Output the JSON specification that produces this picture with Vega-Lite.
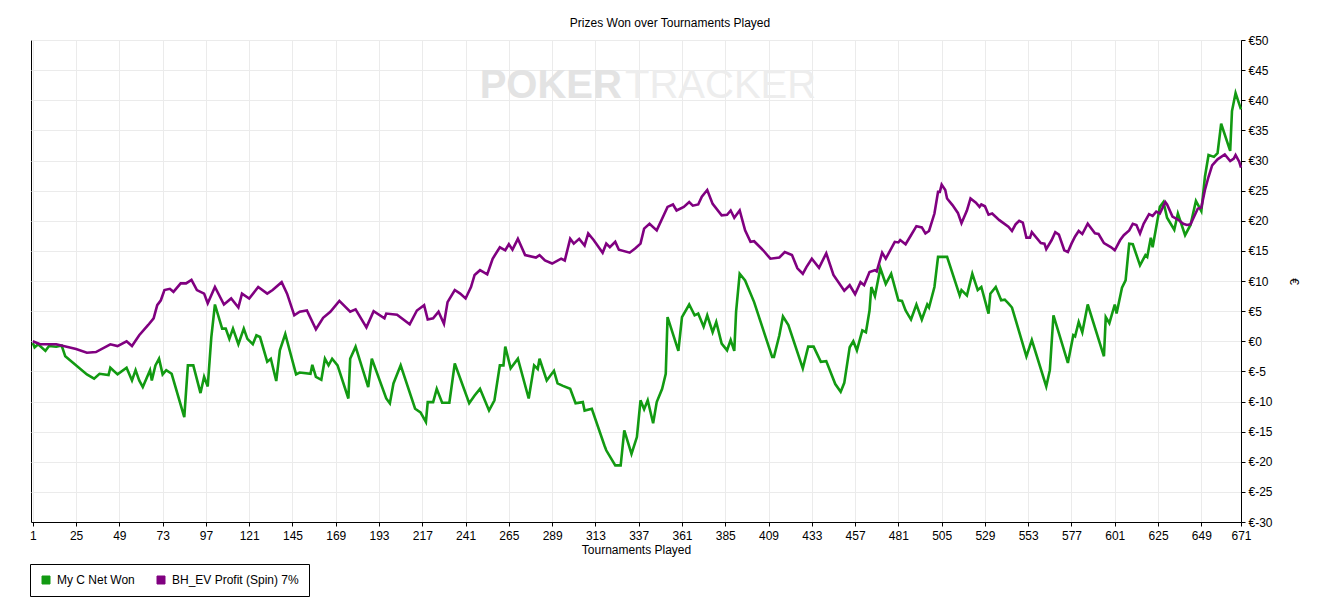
{
  "$schema": "https://vega.github.io/schema/vega-lite/v6.json",
  "autosize": {"type": "none"},
  "width": 1210,
  "height": 482,
  "padding": {"left": 31, "top": 40, "right": 84, "bottom": 92},
  "background": "white",
  "config": {
    "font": "Liberation Sans",
    "view": {"stroke": "black", "strokeWidth": 1},
    "axis": {
      "labelFont": "Liberation Sans", "labelFontSize": 12, "labelColor": "black",
      "titleFont": "Liberation Sans", "titleFontSize": 12, "titleFontWeight": "normal", "titleColor": "black",
      "domainColor": "black", "tickColor": "black", "tickSize": 4,
      "gridColor": "#ebebeb", "gridWidth": 1
    },
    "legend": {"labelFont": "Liberation Sans", "labelFontSize": 12, "labelColor": "black"}
  },
  "title": {
    "text": "Prizes Won over Tournaments Played",
    "fontSize": 12, "fontWeight": "normal", "font": "Liberation Sans", "color": "black",
    "anchor": "middle", "frame": "group", "dx": 34, "offset": 4
  },
  "datasets": {
    "wm": [
      {"t": 327.7, "v": 42.3, "txt": "POKER"},
      {"t": 329.4, "v": 42.3, "txt": "TRACKER"}
    ],
    "series": [
      {"s": "My C Net Won", "t": 1, "v": -0.3},
      {"s": "My C Net Won", "t": 2, "v": -1.0},
      {"s": "My C Net Won", "t": 4, "v": -0.5},
      {"s": "My C Net Won", "t": 8, "v": -1.6},
      {"s": "My C Net Won", "t": 10, "v": -0.8},
      {"s": "My C Net Won", "t": 14, "v": -0.9},
      {"s": "My C Net Won", "t": 17, "v": -0.7},
      {"s": "My C Net Won", "t": 19, "v": -2.5},
      {"s": "My C Net Won", "t": 31, "v": -5.5},
      {"s": "My C Net Won", "t": 35, "v": -6.2},
      {"s": "My C Net Won", "t": 38, "v": -5.4},
      {"s": "My C Net Won", "t": 43, "v": -5.6},
      {"s": "My C Net Won", "t": 44, "v": -4.4},
      {"s": "My C Net Won", "t": 48, "v": -5.5},
      {"s": "My C Net Won", "t": 53, "v": -4.4},
      {"s": "My C Net Won", "t": 56, "v": -6.5},
      {"s": "My C Net Won", "t": 58, "v": -4.8},
      {"s": "My C Net Won", "t": 60, "v": -6.5},
      {"s": "My C Net Won", "t": 62, "v": -7.6},
      {"s": "My C Net Won", "t": 66, "v": -4.8},
      {"s": "My C Net Won", "t": 67, "v": -6.5},
      {"s": "My C Net Won", "t": 69, "v": -4.0},
      {"s": "My C Net Won", "t": 71, "v": -2.9},
      {"s": "My C Net Won", "t": 73, "v": -5.5},
      {"s": "My C Net Won", "t": 75, "v": -4.8},
      {"s": "My C Net Won", "t": 78, "v": -5.4},
      {"s": "My C Net Won", "t": 85, "v": -12.6},
      {"s": "My C Net Won", "t": 87, "v": -4.0},
      {"s": "My C Net Won", "t": 90, "v": -4.0},
      {"s": "My C Net Won", "t": 94, "v": -8.6},
      {"s": "My C Net Won", "t": 96, "v": -5.9},
      {"s": "My C Net Won", "t": 98, "v": -7.5},
      {"s": "My C Net Won", "t": 100, "v": 0.7},
      {"s": "My C Net Won", "t": 102, "v": 6.1},
      {"s": "My C Net Won", "t": 106, "v": 2.1},
      {"s": "My C Net Won", "t": 108, "v": 2.1},
      {"s": "My C Net Won", "t": 110, "v": 0.4},
      {"s": "My C Net Won", "t": 112, "v": 2.1},
      {"s": "My C Net Won", "t": 115, "v": -0.5},
      {"s": "My C Net Won", "t": 118, "v": 2.1},
      {"s": "My C Net Won", "t": 120, "v": 0.4},
      {"s": "My C Net Won", "t": 123, "v": -0.5},
      {"s": "My C Net Won", "t": 125, "v": 1.0},
      {"s": "My C Net Won", "t": 127, "v": 0.7},
      {"s": "My C Net Won", "t": 131, "v": -3.4},
      {"s": "My C Net Won", "t": 133, "v": -2.9},
      {"s": "My C Net Won", "t": 136, "v": -6.6},
      {"s": "My C Net Won", "t": 138, "v": -1.5},
      {"s": "My C Net Won", "t": 141, "v": 1.2},
      {"s": "My C Net Won", "t": 147, "v": -5.5},
      {"s": "My C Net Won", "t": 149, "v": -5.2},
      {"s": "My C Net Won", "t": 155, "v": -5.4},
      {"s": "My C Net Won", "t": 156, "v": -3.9},
      {"s": "My C Net Won", "t": 158, "v": -5.9},
      {"s": "My C Net Won", "t": 161, "v": -6.4},
      {"s": "My C Net Won", "t": 163, "v": -2.9},
      {"s": "My C Net Won", "t": 165, "v": -4.0},
      {"s": "My C Net Won", "t": 167, "v": -2.9},
      {"s": "My C Net Won", "t": 170, "v": -4.0},
      {"s": "My C Net Won", "t": 176, "v": -9.5},
      {"s": "My C Net Won", "t": 177, "v": -2.9},
      {"s": "My C Net Won", "t": 180, "v": -0.9},
      {"s": "My C Net Won", "t": 187, "v": -7.6},
      {"s": "My C Net Won", "t": 189, "v": -2.9},
      {"s": "My C Net Won", "t": 197, "v": -9.5},
      {"s": "My C Net Won", "t": 199, "v": -10.3},
      {"s": "My C Net Won", "t": 201, "v": -7.0},
      {"s": "My C Net Won", "t": 205, "v": -4.0},
      {"s": "My C Net Won", "t": 213, "v": -11.2},
      {"s": "My C Net Won", "t": 216, "v": -11.8},
      {"s": "My C Net Won", "t": 219, "v": -13.4},
      {"s": "My C Net Won", "t": 220, "v": -10.1},
      {"s": "My C Net Won", "t": 223, "v": -10.1},
      {"s": "My C Net Won", "t": 225, "v": -7.9},
      {"s": "My C Net Won", "t": 228, "v": -10.2},
      {"s": "My C Net Won", "t": 232, "v": -10.2},
      {"s": "My C Net Won", "t": 235, "v": -3.7},
      {"s": "My C Net Won", "t": 243, "v": -10.3},
      {"s": "My C Net Won", "t": 246, "v": -9.0},
      {"s": "My C Net Won", "t": 249, "v": -7.9},
      {"s": "My C Net Won", "t": 254, "v": -11.5},
      {"s": "My C Net Won", "t": 257, "v": -9.8},
      {"s": "My C Net Won", "t": 260, "v": -4.0},
      {"s": "My C Net Won", "t": 262, "v": -4.0},
      {"s": "My C Net Won", "t": 263, "v": -0.9},
      {"s": "My C Net Won", "t": 266, "v": -4.5},
      {"s": "My C Net Won", "t": 270, "v": -2.9},
      {"s": "My C Net Won", "t": 276, "v": -9.5},
      {"s": "My C Net Won", "t": 279, "v": -4.0},
      {"s": "My C Net Won", "t": 281, "v": -4.6},
      {"s": "My C Net Won", "t": 282, "v": -2.9},
      {"s": "My C Net Won", "t": 286, "v": -6.5},
      {"s": "My C Net Won", "t": 290, "v": -4.9},
      {"s": "My C Net Won", "t": 292, "v": -7.0},
      {"s": "My C Net Won", "t": 295, "v": -7.4},
      {"s": "My C Net Won", "t": 299, "v": -7.9},
      {"s": "My C Net Won", "t": 302, "v": -10.3},
      {"s": "My C Net Won", "t": 306, "v": -10.1},
      {"s": "My C Net Won", "t": 307, "v": -11.5},
      {"s": "My C Net Won", "t": 311, "v": -11.2},
      {"s": "My C Net Won", "t": 318, "v": -17.3},
      {"s": "My C Net Won", "t": 319, "v": -18.1},
      {"s": "My C Net Won", "t": 324, "v": -20.6},
      {"s": "My C Net Won", "t": 327, "v": -20.6},
      {"s": "My C Net Won", "t": 329, "v": -14.8},
      {"s": "My C Net Won", "t": 333, "v": -18.7},
      {"s": "My C Net Won", "t": 336, "v": -15.9},
      {"s": "My C Net Won", "t": 338, "v": -9.8},
      {"s": "My C Net Won", "t": 340, "v": -11.3},
      {"s": "My C Net Won", "t": 342, "v": -9.8},
      {"s": "My C Net Won", "t": 345, "v": -13.6},
      {"s": "My C Net Won", "t": 347, "v": -10.1},
      {"s": "My C Net Won", "t": 350, "v": -7.9},
      {"s": "My C Net Won", "t": 352, "v": -5.4},
      {"s": "My C Net Won", "t": 353, "v": 4.0},
      {"s": "My C Net Won", "t": 359, "v": -1.6},
      {"s": "My C Net Won", "t": 361, "v": 4.0},
      {"s": "My C Net Won", "t": 365, "v": 6.1},
      {"s": "My C Net Won", "t": 368, "v": 4.3},
      {"s": "My C Net Won", "t": 370, "v": 4.6},
      {"s": "My C Net Won", "t": 373, "v": 2.4},
      {"s": "My C Net Won", "t": 375, "v": 4.3},
      {"s": "My C Net Won", "t": 378, "v": 1.5},
      {"s": "My C Net Won", "t": 380, "v": 3.2},
      {"s": "My C Net Won", "t": 383, "v": -0.4},
      {"s": "My C Net Won", "t": 386, "v": -1.5},
      {"s": "My C Net Won", "t": 388, "v": 0.2},
      {"s": "My C Net Won", "t": 390, "v": -1.6},
      {"s": "My C Net Won", "t": 391, "v": 4.9},
      {"s": "My C Net Won", "t": 393, "v": 11.2},
      {"s": "My C Net Won", "t": 396, "v": 10.1},
      {"s": "My C Net Won", "t": 401, "v": 6.5},
      {"s": "My C Net Won", "t": 411, "v": -2.6},
      {"s": "My C Net Won", "t": 412, "v": -2.6},
      {"s": "My C Net Won", "t": 415, "v": 1.0},
      {"s": "My C Net Won", "t": 417, "v": 4.1},
      {"s": "My C Net Won", "t": 420, "v": 2.7},
      {"s": "My C Net Won", "t": 428, "v": -4.5},
      {"s": "My C Net Won", "t": 431, "v": -0.9},
      {"s": "My C Net Won", "t": 434, "v": -0.9},
      {"s": "My C Net Won", "t": 438, "v": -3.4},
      {"s": "My C Net Won", "t": 441, "v": -3.3},
      {"s": "My C Net Won", "t": 446, "v": -7.1},
      {"s": "My C Net Won", "t": 449, "v": -8.4},
      {"s": "My C Net Won", "t": 451, "v": -6.9},
      {"s": "My C Net Won", "t": 454, "v": -1.0},
      {"s": "My C Net Won", "t": 456, "v": 0.0},
      {"s": "My C Net Won", "t": 458, "v": -1.5},
      {"s": "My C Net Won", "t": 461, "v": 1.8},
      {"s": "My C Net Won", "t": 463, "v": 1.5},
      {"s": "My C Net Won", "t": 465, "v": 5.1},
      {"s": "My C Net Won", "t": 466, "v": 9.0},
      {"s": "My C Net Won", "t": 468, "v": 7.5},
      {"s": "My C Net Won", "t": 471, "v": 12.1},
      {"s": "My C Net Won", "t": 474, "v": 9.5},
      {"s": "My C Net Won", "t": 477, "v": 11.2},
      {"s": "My C Net Won", "t": 481, "v": 6.8},
      {"s": "My C Net Won", "t": 483, "v": 6.7},
      {"s": "My C Net Won", "t": 485, "v": 5.1},
      {"s": "My C Net Won", "t": 488, "v": 3.6},
      {"s": "My C Net Won", "t": 491, "v": 6.1},
      {"s": "My C Net Won", "t": 494, "v": 3.6},
      {"s": "My C Net Won", "t": 497, "v": 6.1},
      {"s": "My C Net Won", "t": 498, "v": 5.6},
      {"s": "My C Net Won", "t": 501, "v": 9.0},
      {"s": "My C Net Won", "t": 503, "v": 14.0},
      {"s": "My C Net Won", "t": 508, "v": 14.0},
      {"s": "My C Net Won", "t": 515, "v": 7.6},
      {"s": "My C Net Won", "t": 516, "v": 8.5},
      {"s": "My C Net Won", "t": 519, "v": 7.6},
      {"s": "My C Net Won", "t": 522, "v": 11.2},
      {"s": "My C Net Won", "t": 525, "v": 8.5},
      {"s": "My C Net Won", "t": 527, "v": 9.0},
      {"s": "My C Net Won", "t": 531, "v": 4.6},
      {"s": "My C Net Won", "t": 532, "v": 7.9},
      {"s": "My C Net Won", "t": 535, "v": 9.0},
      {"s": "My C Net Won", "t": 538, "v": 6.8},
      {"s": "My C Net Won", "t": 540, "v": 6.9},
      {"s": "My C Net Won", "t": 542, "v": 6.3},
      {"s": "My C Net Won", "t": 544, "v": 5.6},
      {"s": "My C Net Won", "t": 552, "v": -2.5},
      {"s": "My C Net Won", "t": 555, "v": 0.2},
      {"s": "My C Net Won", "t": 563, "v": -7.5},
      {"s": "My C Net Won", "t": 565, "v": -4.8},
      {"s": "My C Net Won", "t": 567, "v": 4.3},
      {"s": "My C Net Won", "t": 575, "v": -3.6},
      {"s": "My C Net Won", "t": 578, "v": 1.0},
      {"s": "My C Net Won", "t": 579, "v": 0.8},
      {"s": "My C Net Won", "t": 581, "v": 3.2},
      {"s": "My C Net Won", "t": 583, "v": 1.5},
      {"s": "My C Net Won", "t": 586, "v": 6.1},
      {"s": "My C Net Won", "t": 595, "v": -2.5},
      {"s": "My C Net Won", "t": 596, "v": 4.0},
      {"s": "My C Net Won", "t": 598, "v": 3.0},
      {"s": "My C Net Won", "t": 601, "v": 6.1},
      {"s": "My C Net Won", "t": 602, "v": 4.6},
      {"s": "My C Net Won", "t": 605, "v": 8.9},
      {"s": "My C Net Won", "t": 607, "v": 10.1},
      {"s": "My C Net Won", "t": 609, "v": 16.2},
      {"s": "My C Net Won", "t": 611, "v": 16.1},
      {"s": "My C Net Won", "t": 615, "v": 12.6},
      {"s": "My C Net Won", "t": 618, "v": 14.3},
      {"s": "My C Net Won", "t": 619, "v": 14.0},
      {"s": "My C Net Won", "t": 621, "v": 17.2},
      {"s": "My C Net Won", "t": 622, "v": 15.6},
      {"s": "My C Net Won", "t": 626, "v": 22.3},
      {"s": "My C Net Won", "t": 628, "v": 23.1},
      {"s": "My C Net Won", "t": 630, "v": 20.5},
      {"s": "My C Net Won", "t": 634, "v": 18.5},
      {"s": "My C Net Won", "t": 636, "v": 21.2},
      {"s": "My C Net Won", "t": 640, "v": 17.6},
      {"s": "My C Net Won", "t": 643, "v": 19.3},
      {"s": "My C Net Won", "t": 646, "v": 23.3},
      {"s": "My C Net Won", "t": 649, "v": 21.6},
      {"s": "My C Net Won", "t": 651, "v": 27.3},
      {"s": "My C Net Won", "t": 653, "v": 30.9},
      {"s": "My C Net Won", "t": 656, "v": 30.6},
      {"s": "My C Net Won", "t": 658, "v": 31.2},
      {"s": "My C Net Won", "t": 660, "v": 36.1},
      {"s": "My C Net Won", "t": 665, "v": 31.6},
      {"s": "My C Net Won", "t": 666, "v": 38.2},
      {"s": "My C Net Won", "t": 668, "v": 41.2},
      {"s": "My C Net Won", "t": 671, "v": 38.5},
      {"s": "BH_EV Profit (Spin) 7%", "t": 1, "v": 0.0},
      {"s": "BH_EV Profit (Spin) 7%", "t": 5, "v": -0.5},
      {"s": "BH_EV Profit (Spin) 7%", "t": 14, "v": -0.5},
      {"s": "BH_EV Profit (Spin) 7%", "t": 25, "v": -1.3},
      {"s": "BH_EV Profit (Spin) 7%", "t": 31, "v": -1.9},
      {"s": "BH_EV Profit (Spin) 7%", "t": 36, "v": -1.8},
      {"s": "BH_EV Profit (Spin) 7%", "t": 44, "v": -0.5},
      {"s": "BH_EV Profit (Spin) 7%", "t": 48, "v": -0.8},
      {"s": "BH_EV Profit (Spin) 7%", "t": 53, "v": 0.0},
      {"s": "BH_EV Profit (Spin) 7%", "t": 56, "v": -0.8},
      {"s": "BH_EV Profit (Spin) 7%", "t": 60, "v": 1.0},
      {"s": "BH_EV Profit (Spin) 7%", "t": 65, "v": 2.7},
      {"s": "BH_EV Profit (Spin) 7%", "t": 68, "v": 3.8},
      {"s": "BH_EV Profit (Spin) 7%", "t": 70, "v": 6.0},
      {"s": "BH_EV Profit (Spin) 7%", "t": 72, "v": 6.8},
      {"s": "BH_EV Profit (Spin) 7%", "t": 74, "v": 8.5},
      {"s": "BH_EV Profit (Spin) 7%", "t": 77, "v": 8.7},
      {"s": "BH_EV Profit (Spin) 7%", "t": 79, "v": 8.2},
      {"s": "BH_EV Profit (Spin) 7%", "t": 83, "v": 9.6},
      {"s": "BH_EV Profit (Spin) 7%", "t": 86, "v": 9.6},
      {"s": "BH_EV Profit (Spin) 7%", "t": 89, "v": 10.2},
      {"s": "BH_EV Profit (Spin) 7%", "t": 92, "v": 8.5},
      {"s": "BH_EV Profit (Spin) 7%", "t": 96, "v": 7.9},
      {"s": "BH_EV Profit (Spin) 7%", "t": 98, "v": 6.3},
      {"s": "BH_EV Profit (Spin) 7%", "t": 102, "v": 9.0},
      {"s": "BH_EV Profit (Spin) 7%", "t": 107, "v": 6.1},
      {"s": "BH_EV Profit (Spin) 7%", "t": 111, "v": 7.1},
      {"s": "BH_EV Profit (Spin) 7%", "t": 115, "v": 5.6},
      {"s": "BH_EV Profit (Spin) 7%", "t": 117, "v": 7.9},
      {"s": "BH_EV Profit (Spin) 7%", "t": 121, "v": 7.1},
      {"s": "BH_EV Profit (Spin) 7%", "t": 126, "v": 9.0},
      {"s": "BH_EV Profit (Spin) 7%", "t": 131, "v": 7.9},
      {"s": "BH_EV Profit (Spin) 7%", "t": 134, "v": 8.5},
      {"s": "BH_EV Profit (Spin) 7%", "t": 139, "v": 9.8},
      {"s": "BH_EV Profit (Spin) 7%", "t": 142, "v": 7.9},
      {"s": "BH_EV Profit (Spin) 7%", "t": 146, "v": 4.3},
      {"s": "BH_EV Profit (Spin) 7%", "t": 149, "v": 4.9},
      {"s": "BH_EV Profit (Spin) 7%", "t": 153, "v": 5.1},
      {"s": "BH_EV Profit (Spin) 7%", "t": 158, "v": 2.0},
      {"s": "BH_EV Profit (Spin) 7%", "t": 162, "v": 3.9},
      {"s": "BH_EV Profit (Spin) 7%", "t": 166, "v": 4.9},
      {"s": "BH_EV Profit (Spin) 7%", "t": 171, "v": 6.7},
      {"s": "BH_EV Profit (Spin) 7%", "t": 177, "v": 4.9},
      {"s": "BH_EV Profit (Spin) 7%", "t": 180, "v": 5.3},
      {"s": "BH_EV Profit (Spin) 7%", "t": 186, "v": 2.3},
      {"s": "BH_EV Profit (Spin) 7%", "t": 190, "v": 5.0},
      {"s": "BH_EV Profit (Spin) 7%", "t": 196, "v": 3.8},
      {"s": "BH_EV Profit (Spin) 7%", "t": 197, "v": 4.6},
      {"s": "BH_EV Profit (Spin) 7%", "t": 203, "v": 4.4},
      {"s": "BH_EV Profit (Spin) 7%", "t": 210, "v": 2.8},
      {"s": "BH_EV Profit (Spin) 7%", "t": 214, "v": 5.1},
      {"s": "BH_EV Profit (Spin) 7%", "t": 218, "v": 6.0},
      {"s": "BH_EV Profit (Spin) 7%", "t": 220, "v": 3.6},
      {"s": "BH_EV Profit (Spin) 7%", "t": 223, "v": 3.8},
      {"s": "BH_EV Profit (Spin) 7%", "t": 226, "v": 4.9},
      {"s": "BH_EV Profit (Spin) 7%", "t": 229, "v": 2.9},
      {"s": "BH_EV Profit (Spin) 7%", "t": 231, "v": 6.5},
      {"s": "BH_EV Profit (Spin) 7%", "t": 235, "v": 8.5},
      {"s": "BH_EV Profit (Spin) 7%", "t": 238, "v": 7.9},
      {"s": "BH_EV Profit (Spin) 7%", "t": 241, "v": 7.1},
      {"s": "BH_EV Profit (Spin) 7%", "t": 244, "v": 9.0},
      {"s": "BH_EV Profit (Spin) 7%", "t": 246, "v": 11.0},
      {"s": "BH_EV Profit (Spin) 7%", "t": 249, "v": 11.8},
      {"s": "BH_EV Profit (Spin) 7%", "t": 253, "v": 11.1},
      {"s": "BH_EV Profit (Spin) 7%", "t": 256, "v": 13.7},
      {"s": "BH_EV Profit (Spin) 7%", "t": 260, "v": 15.6},
      {"s": "BH_EV Profit (Spin) 7%", "t": 263, "v": 15.1},
      {"s": "BH_EV Profit (Spin) 7%", "t": 265, "v": 16.1},
      {"s": "BH_EV Profit (Spin) 7%", "t": 267, "v": 15.2},
      {"s": "BH_EV Profit (Spin) 7%", "t": 270, "v": 17.0},
      {"s": "BH_EV Profit (Spin) 7%", "t": 274, "v": 14.3},
      {"s": "BH_EV Profit (Spin) 7%", "t": 280, "v": 13.9},
      {"s": "BH_EV Profit (Spin) 7%", "t": 282, "v": 14.3},
      {"s": "BH_EV Profit (Spin) 7%", "t": 285, "v": 13.4},
      {"s": "BH_EV Profit (Spin) 7%", "t": 289, "v": 12.9},
      {"s": "BH_EV Profit (Spin) 7%", "t": 294, "v": 13.7},
      {"s": "BH_EV Profit (Spin) 7%", "t": 296, "v": 13.4},
      {"s": "BH_EV Profit (Spin) 7%", "t": 299, "v": 17.0},
      {"s": "BH_EV Profit (Spin) 7%", "t": 301, "v": 16.2},
      {"s": "BH_EV Profit (Spin) 7%", "t": 304, "v": 17.0},
      {"s": "BH_EV Profit (Spin) 7%", "t": 307, "v": 15.9},
      {"s": "BH_EV Profit (Spin) 7%", "t": 309, "v": 17.9},
      {"s": "BH_EV Profit (Spin) 7%", "t": 312, "v": 16.8},
      {"s": "BH_EV Profit (Spin) 7%", "t": 317, "v": 14.7},
      {"s": "BH_EV Profit (Spin) 7%", "t": 319, "v": 16.2},
      {"s": "BH_EV Profit (Spin) 7%", "t": 321, "v": 15.6},
      {"s": "BH_EV Profit (Spin) 7%", "t": 324, "v": 16.5},
      {"s": "BH_EV Profit (Spin) 7%", "t": 326, "v": 15.2},
      {"s": "BH_EV Profit (Spin) 7%", "t": 332, "v": 14.7},
      {"s": "BH_EV Profit (Spin) 7%", "t": 335, "v": 15.4},
      {"s": "BH_EV Profit (Spin) 7%", "t": 338, "v": 16.2},
      {"s": "BH_EV Profit (Spin) 7%", "t": 340, "v": 18.7},
      {"s": "BH_EV Profit (Spin) 7%", "t": 343, "v": 19.5},
      {"s": "BH_EV Profit (Spin) 7%", "t": 347, "v": 18.4},
      {"s": "BH_EV Profit (Spin) 7%", "t": 353, "v": 22.3},
      {"s": "BH_EV Profit (Spin) 7%", "t": 356, "v": 22.7},
      {"s": "BH_EV Profit (Spin) 7%", "t": 358, "v": 21.7},
      {"s": "BH_EV Profit (Spin) 7%", "t": 362, "v": 22.3},
      {"s": "BH_EV Profit (Spin) 7%", "t": 365, "v": 23.1},
      {"s": "BH_EV Profit (Spin) 7%", "t": 367, "v": 22.5},
      {"s": "BH_EV Profit (Spin) 7%", "t": 370, "v": 22.7},
      {"s": "BH_EV Profit (Spin) 7%", "t": 372, "v": 24.0},
      {"s": "BH_EV Profit (Spin) 7%", "t": 375, "v": 25.1},
      {"s": "BH_EV Profit (Spin) 7%", "t": 378, "v": 22.8},
      {"s": "BH_EV Profit (Spin) 7%", "t": 383, "v": 20.9},
      {"s": "BH_EV Profit (Spin) 7%", "t": 386, "v": 21.0},
      {"s": "BH_EV Profit (Spin) 7%", "t": 388, "v": 21.7},
      {"s": "BH_EV Profit (Spin) 7%", "t": 390, "v": 20.5},
      {"s": "BH_EV Profit (Spin) 7%", "t": 393, "v": 21.7},
      {"s": "BH_EV Profit (Spin) 7%", "t": 396, "v": 18.4},
      {"s": "BH_EV Profit (Spin) 7%", "t": 399, "v": 16.5},
      {"s": "BH_EV Profit (Spin) 7%", "t": 401, "v": 16.6},
      {"s": "BH_EV Profit (Spin) 7%", "t": 406, "v": 15.1},
      {"s": "BH_EV Profit (Spin) 7%", "t": 410, "v": 13.7},
      {"s": "BH_EV Profit (Spin) 7%", "t": 415, "v": 13.9},
      {"s": "BH_EV Profit (Spin) 7%", "t": 418, "v": 14.8},
      {"s": "BH_EV Profit (Spin) 7%", "t": 422, "v": 14.3},
      {"s": "BH_EV Profit (Spin) 7%", "t": 425, "v": 12.1},
      {"s": "BH_EV Profit (Spin) 7%", "t": 428, "v": 11.2},
      {"s": "BH_EV Profit (Spin) 7%", "t": 430, "v": 12.3},
      {"s": "BH_EV Profit (Spin) 7%", "t": 433, "v": 13.7},
      {"s": "BH_EV Profit (Spin) 7%", "t": 437, "v": 12.2},
      {"s": "BH_EV Profit (Spin) 7%", "t": 441, "v": 14.6},
      {"s": "BH_EV Profit (Spin) 7%", "t": 445, "v": 11.0},
      {"s": "BH_EV Profit (Spin) 7%", "t": 451, "v": 8.4},
      {"s": "BH_EV Profit (Spin) 7%", "t": 454, "v": 9.3},
      {"s": "BH_EV Profit (Spin) 7%", "t": 457, "v": 7.8},
      {"s": "BH_EV Profit (Spin) 7%", "t": 460, "v": 9.8},
      {"s": "BH_EV Profit (Spin) 7%", "t": 462, "v": 9.3},
      {"s": "BH_EV Profit (Spin) 7%", "t": 465, "v": 11.5},
      {"s": "BH_EV Profit (Spin) 7%", "t": 468, "v": 11.8},
      {"s": "BH_EV Profit (Spin) 7%", "t": 469, "v": 11.6},
      {"s": "BH_EV Profit (Spin) 7%", "t": 472, "v": 14.7},
      {"s": "BH_EV Profit (Spin) 7%", "t": 474, "v": 13.7},
      {"s": "BH_EV Profit (Spin) 7%", "t": 479, "v": 16.5},
      {"s": "BH_EV Profit (Spin) 7%", "t": 481, "v": 16.4},
      {"s": "BH_EV Profit (Spin) 7%", "t": 482, "v": 16.8},
      {"s": "BH_EV Profit (Spin) 7%", "t": 485, "v": 16.1},
      {"s": "BH_EV Profit (Spin) 7%", "t": 488, "v": 17.6},
      {"s": "BH_EV Profit (Spin) 7%", "t": 491, "v": 19.1},
      {"s": "BH_EV Profit (Spin) 7%", "t": 494, "v": 18.9},
      {"s": "BH_EV Profit (Spin) 7%", "t": 496, "v": 17.9},
      {"s": "BH_EV Profit (Spin) 7%", "t": 498, "v": 18.3},
      {"s": "BH_EV Profit (Spin) 7%", "t": 501, "v": 21.2},
      {"s": "BH_EV Profit (Spin) 7%", "t": 503, "v": 24.8},
      {"s": "BH_EV Profit (Spin) 7%", "t": 504, "v": 24.8},
      {"s": "BH_EV Profit (Spin) 7%", "t": 505, "v": 26.0},
      {"s": "BH_EV Profit (Spin) 7%", "t": 507, "v": 25.1},
      {"s": "BH_EV Profit (Spin) 7%", "t": 508, "v": 23.7},
      {"s": "BH_EV Profit (Spin) 7%", "t": 511, "v": 22.6},
      {"s": "BH_EV Profit (Spin) 7%", "t": 514, "v": 21.3},
      {"s": "BH_EV Profit (Spin) 7%", "t": 516, "v": 19.6},
      {"s": "BH_EV Profit (Spin) 7%", "t": 519, "v": 21.7},
      {"s": "BH_EV Profit (Spin) 7%", "t": 521, "v": 23.7},
      {"s": "BH_EV Profit (Spin) 7%", "t": 524, "v": 23.0},
      {"s": "BH_EV Profit (Spin) 7%", "t": 526, "v": 22.3},
      {"s": "BH_EV Profit (Spin) 7%", "t": 527, "v": 22.7},
      {"s": "BH_EV Profit (Spin) 7%", "t": 529, "v": 22.4},
      {"s": "BH_EV Profit (Spin) 7%", "t": 531, "v": 21.0},
      {"s": "BH_EV Profit (Spin) 7%", "t": 533, "v": 21.2},
      {"s": "BH_EV Profit (Spin) 7%", "t": 537, "v": 20.1},
      {"s": "BH_EV Profit (Spin) 7%", "t": 542, "v": 19.0},
      {"s": "BH_EV Profit (Spin) 7%", "t": 544, "v": 18.3},
      {"s": "BH_EV Profit (Spin) 7%", "t": 546, "v": 19.4},
      {"s": "BH_EV Profit (Spin) 7%", "t": 548, "v": 20.0},
      {"s": "BH_EV Profit (Spin) 7%", "t": 550, "v": 19.7},
      {"s": "BH_EV Profit (Spin) 7%", "t": 552, "v": 17.2},
      {"s": "BH_EV Profit (Spin) 7%", "t": 554, "v": 17.2},
      {"s": "BH_EV Profit (Spin) 7%", "t": 555, "v": 18.1},
      {"s": "BH_EV Profit (Spin) 7%", "t": 560, "v": 16.3},
      {"s": "BH_EV Profit (Spin) 7%", "t": 562, "v": 16.2},
      {"s": "BH_EV Profit (Spin) 7%", "t": 563, "v": 15.3},
      {"s": "BH_EV Profit (Spin) 7%", "t": 566, "v": 16.8},
      {"s": "BH_EV Profit (Spin) 7%", "t": 568, "v": 18.1},
      {"s": "BH_EV Profit (Spin) 7%", "t": 570, "v": 17.7},
      {"s": "BH_EV Profit (Spin) 7%", "t": 573, "v": 15.1},
      {"s": "BH_EV Profit (Spin) 7%", "t": 575, "v": 14.8},
      {"s": "BH_EV Profit (Spin) 7%", "t": 577, "v": 16.2},
      {"s": "BH_EV Profit (Spin) 7%", "t": 579, "v": 17.4},
      {"s": "BH_EV Profit (Spin) 7%", "t": 581, "v": 18.3},
      {"s": "BH_EV Profit (Spin) 7%", "t": 583, "v": 17.8},
      {"s": "BH_EV Profit (Spin) 7%", "t": 586, "v": 19.5},
      {"s": "BH_EV Profit (Spin) 7%", "t": 590, "v": 17.9},
      {"s": "BH_EV Profit (Spin) 7%", "t": 592, "v": 17.8},
      {"s": "BH_EV Profit (Spin) 7%", "t": 595, "v": 16.3},
      {"s": "BH_EV Profit (Spin) 7%", "t": 599, "v": 15.6},
      {"s": "BH_EV Profit (Spin) 7%", "t": 601, "v": 15.1},
      {"s": "BH_EV Profit (Spin) 7%", "t": 604, "v": 16.8},
      {"s": "BH_EV Profit (Spin) 7%", "t": 606, "v": 17.6},
      {"s": "BH_EV Profit (Spin) 7%", "t": 609, "v": 18.4},
      {"s": "BH_EV Profit (Spin) 7%", "t": 611, "v": 19.5},
      {"s": "BH_EV Profit (Spin) 7%", "t": 613, "v": 19.3},
      {"s": "BH_EV Profit (Spin) 7%", "t": 615, "v": 17.9},
      {"s": "BH_EV Profit (Spin) 7%", "t": 617, "v": 19.5},
      {"s": "BH_EV Profit (Spin) 7%", "t": 620, "v": 21.1},
      {"s": "BH_EV Profit (Spin) 7%", "t": 622, "v": 20.8},
      {"s": "BH_EV Profit (Spin) 7%", "t": 624, "v": 21.5},
      {"s": "BH_EV Profit (Spin) 7%", "t": 626, "v": 21.2},
      {"s": "BH_EV Profit (Spin) 7%", "t": 629, "v": 23.1},
      {"s": "BH_EV Profit (Spin) 7%", "t": 630, "v": 22.7},
      {"s": "BH_EV Profit (Spin) 7%", "t": 633, "v": 20.7},
      {"s": "BH_EV Profit (Spin) 7%", "t": 636, "v": 20.2},
      {"s": "BH_EV Profit (Spin) 7%", "t": 639, "v": 19.5},
      {"s": "BH_EV Profit (Spin) 7%", "t": 641, "v": 19.3},
      {"s": "BH_EV Profit (Spin) 7%", "t": 643, "v": 19.4},
      {"s": "BH_EV Profit (Spin) 7%", "t": 647, "v": 22.0},
      {"s": "BH_EV Profit (Spin) 7%", "t": 649, "v": 22.2},
      {"s": "BH_EV Profit (Spin) 7%", "t": 651, "v": 25.1},
      {"s": "BH_EV Profit (Spin) 7%", "t": 653, "v": 27.3},
      {"s": "BH_EV Profit (Spin) 7%", "t": 655, "v": 29.2},
      {"s": "BH_EV Profit (Spin) 7%", "t": 658, "v": 30.2},
      {"s": "BH_EV Profit (Spin) 7%", "t": 662, "v": 31.0},
      {"s": "BH_EV Profit (Spin) 7%", "t": 665, "v": 29.9},
      {"s": "BH_EV Profit (Spin) 7%", "t": 667, "v": 30.3},
      {"s": "BH_EV Profit (Spin) 7%", "t": 668, "v": 30.9},
      {"s": "BH_EV Profit (Spin) 7%", "t": 670, "v": 29.8},
      {"s": "BH_EV Profit (Spin) 7%", "t": 671, "v": 28.8}
    ]
  },
  "encoding": {
    "x": {
      "type": "quantitative",
      "scale": {"domain": [0, 671], "nice": false, "zero": false},
      "axis": {
        "title": "Tournaments Played",
        "values": [1, 25, 49, 73, 97, 121, 145, 169, 193, 217, 241, 265, 289, 313, 337, 361, 385, 409, 433, 457, 481, 505, 529, 553, 577, 601, 625, 649, 671],
        "grid": true, "labelPadding": 4, "titlePadding": 3, "labelFlush": false
      }
    },
    "y": {
      "type": "quantitative",
      "scale": {"domain": [-30, 50], "nice": false, "zero": false},
      "axis": {
        "orient": "right", "title": "€", "titleAngle": 90, "titlePadding": 14,
        "values": [-30, -25, -20, -15, -10, -5, 0, 5, 10, 15, 20, 25, 30, 35, 40, 45, 50],
        "labelExpr": "'€' + datum.value", "grid": true, "labelPadding": 3, "labelFlush": false
      }
    }
  },
  "layer": [
    {
      "data": {"name": "wm"},
      "transform": [{"filter": "datum.txt == 'POKER'"}],
      "mark": {"type": "text", "font": "Liberation Sans", "fontSize": 40, "fontWeight": "bold", "baseline": "middle", "align": "right", "color": "#e3e3e3"},
      "encoding": {
        "x": {"field": "t"},
        "y": {"field": "v"},
        "text": {"field": "txt"}
      }
    },
    {
      "data": {"name": "wm"},
      "transform": [{"filter": "datum.txt == 'TRACKER'"}],
      "mark": {"type": "text", "font": "Liberation Sans", "fontSize": 40, "fontWeight": "normal", "baseline": "middle", "align": "left", "color": "#ededed"},
      "encoding": {
        "x": {"field": "t"},
        "y": {"field": "v"},
        "text": {"field": "txt"}
      }
    },
    {
      "mark": {"type": "rule", "color": "black", "strokeWidth": 1},
      "encoding": {"y": {"datum": 0}}
    },
    {
      "data": {"name": "series"},
      "mark": {"type": "line", "strokeWidth": 2.6},
      "encoding": {
        "x": {"field": "t"},
        "y": {"field": "v"},
        "color": {
          "field": "s", "type": "nominal",
          "scale": {"domain": ["My C Net Won", "BH_EV Profit (Spin) 7%"], "range": ["#129a12", "#800080"]},
          "legend": {
            "title": null, "orient": "none", "legendX": -1, "legendY": 524, "direction": "horizontal",
            "strokeColor": "black", "fillColor": "white", "padding": 10, "columnPadding": 20,
            "symbolType": "square", "symbolSize": 64, "labelOffset": 5,
            "encode": {
              "symbols": {
                "update": {
                  "fill": {"scale": "color", "field": "value"},
                  "stroke": {"value": "#222222"},
                  "strokeWidth": {"value": 1}
                }
              }
            }
          }
        }
      }
    }
  ]
}
